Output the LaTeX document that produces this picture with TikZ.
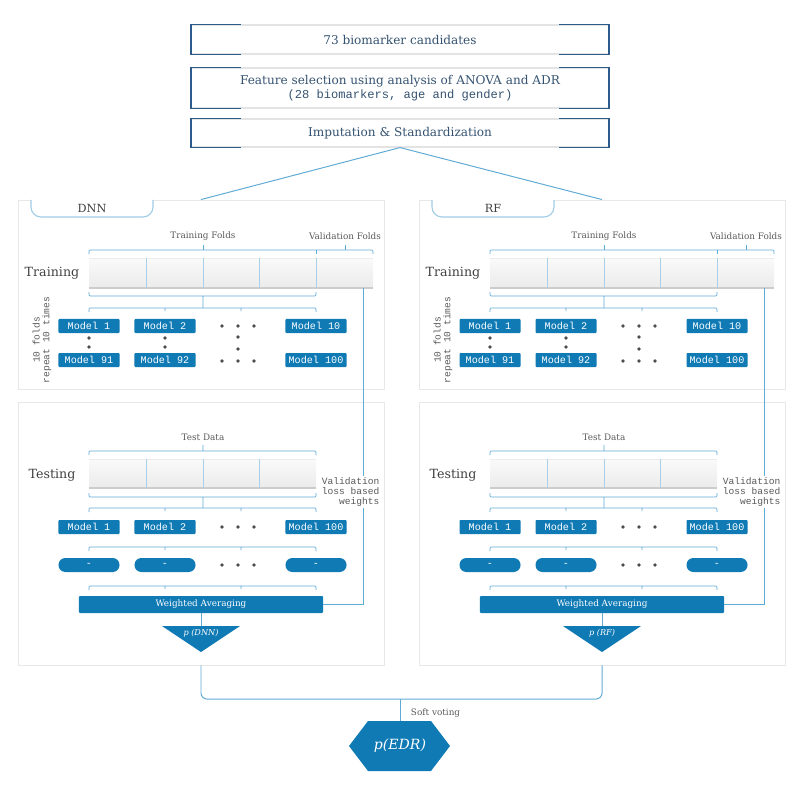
\documentclass[tikz,border=0pt]{standalone}
\usepackage{fontspec}
\setmainfont{DejaVu Serif}
\setmonofont{Liberation Mono}
\definecolor{mblue}{RGB}{16,122,181}
\definecolor{lblue}{RGB}{96,170,214}
\definecolor{headc}{RGB}{52,82,112}
\definecolor{darkb}{RGB}{44,92,140}
\begin{document}
\begin{tikzpicture}[x=0.025cm,y=-0.025cm,
  conn/.style={draw=lblue, line width=0.7pt},
  brk/.style={draw=lblue, line width=0.6pt, rounded corners=0.8pt},
  topbox/.style={draw=gray!22, line width=0.8pt, minimum width=10.425cm, text=headc,
    font=\fontsize{8.6}{10.4}\selectfont, align=center, inner sep=0pt},
  panel/.style={draw=gray!18, line width=0.6pt, minimum width=9.15cm, inner sep=0pt},
  modelbox/.style={fill=mblue, text=white, font=\ttfamily\fontsize{7.2}{8}\selectfont,
    minimum width=1.525cm, minimum height=0.35cm, inner sep=0pt, rounded corners=0.6pt},
  pill/.style={modelbox, rounded corners=0.17cm},
  lbl/.style={font=\fontsize{6.3}{7.5}\selectfont, text=black!65},
  stage/.style={font=\fontsize{9}{11}\selectfont, text=black!75},
  tt/.style={font=\ttfamily\fontsize{6.8}{7}\selectfont, text=black!65, inner sep=1pt},
  dots/.style={fill=gray!60!black}]
\useasboundingbox (0,0) rectangle (800,800);

\node[topbox, minimum height=0.725cm] (cand) at (400,39.5) {73 biomarker candidates};
\node[topbox, minimum height=1cm] (feat) at (400,88)
  {Feature selection using analysis of ANOVA and ADR\\{\ttfamily (28 biomarkers, age and gender)}};
\node[topbox, minimum height=0.7cm] (imp) at (400,133) {Imputation \& Standardization};
\foreach \b in {cand, feat, imp} {
  \draw[darkb, line width=1pt] ([xshift=1.25cm]\b.north west) -- (\b.north west)
    -- (\b.south west) -- ([xshift=1.25cm]\b.south west);
  \draw[darkb, line width=1pt] ([xshift=-1.25cm]\b.north east) -- (\b.north east)
    -- (\b.south east) -- ([xshift=-1.25cm]\b.south east);
}

\foreach \o/\m/\nm in {0/DNN/dnn, 401/RF/rf} {
\begin{scope}[shift={(\o,0)}]
  \node[panel, minimum height=4.725cm] (\nm-train) at (201,294.5) {};
  \node[panel, minimum height=6.575cm] (\nm-test) at (201,533.5) {};
  \draw[draw=lblue!60, fill=white, line width=0.8pt, rounded corners=0.25cm]
    (31,200) -- (31,217) -- (153,217) -- (153,200);
  \node[stage, font=\fontsize{8}{10}\selectfont] (\nm-tab) at (92,208) {\m};

  % training
  \node[stage] (\nm-trl) at (52,273) {Training};
  \node[lbl] (\nm-tf) at (203,236) {Training Folds};
  \node[lbl] (\nm-vf) at (345,236) {Validation Folds};
  \draw[brk] (89,254) -- (89,250) -- (373,250) -- (373,254);
  \draw[brk] (316,250) -- (316,254) (203,250) -- (203,245) (345,250) -- (345,245);
  \shade[top color=gray!4, bottom color=gray!16] (89,258) rectangle (373,288);
  \draw[gray!15] (89,258) -- (373,258);
  \draw[gray!40, line width=0.8pt] (89,288) -- (373,288);
  \foreach \x in {146,203,259,316}
    \draw[lblue!55, line width=0.6pt] (\x,258) -- (\x,288);
  \draw[brk] (89,292) -- (89,296) -- (316,296) -- (316,292) (203,296) -- (203,308);
  \draw[brk] (89,312) -- (89,308) -- (316,308) -- (316,312)
    (165,308) -- (165,311) (241,308) -- (241,311);
  \node[tt, rotate=90, align=center] (\nm-rep) at (42,340) {10 folds\\repeat 10 times};
  \foreach \x/\t in {89/1, 165/2, 316/10}
    \node[modelbox] (\nm-m\t) at (\x,326) {Model \t};
  \foreach \x/\t in {89/91, 165/92, 316/100}
    \node[modelbox] (\nm-m\t) at (\x,360) {Model \t};
  \foreach \x in {222,238,254}
    \fill[dots] (\x,326) circle (1.4pt) (\x,361) circle (1.4pt);
  \foreach \y in {338,347}
    \fill[dots] (89,\y) circle (1.4pt) (165,\y) circle (1.4pt);
  \fill[dots] (238,337) circle (1.4pt) (238,349) circle (1.4pt);

  % testing
  \node[stage] (\nm-tsl) at (52,475) {Testing};
  \node[lbl] (\nm-td) at (203,437) {Test Data};
  \draw[brk] (89,455) -- (89,451) -- (316,451) -- (316,455) (203,451) -- (203,445);
  \shade[top color=gray!4, bottom color=gray!16] (89,459) rectangle (316,488);
  \draw[gray!15] (89,459) -- (316,459);
  \draw[gray!40, line width=0.8pt] (89,488) -- (316,488);
  \foreach \x in {146,203,259}
    \draw[lblue!55, line width=0.6pt] (\x,459) -- (\x,488);
  \draw[brk] (89,493) -- (89,497) -- (316,497) -- (316,493) (203,497) -- (203,508);
  \foreach \y in {508,547,586}
    \draw[brk] (89,\y+4) -- (89,\y) -- (316,\y) -- (316,\y+4)
      (165,\y) -- (165,\y+3) (241,\y) -- (241,\y+3);
  \foreach \x/\t in {89/1, 165/2, 316/100}
    \node[modelbox] (\nm-t\t) at (\x,527) {Model \t};
  \foreach \x/\t in {89/1, 165/2, 316/3}
    \node[pill] (\nm-p\t) at (\x,565) {-};
  \foreach \x in {222,238,254}
    \fill[dots] (\x,527) circle (1.4pt) (\x,565) circle (1.4pt);
  \node[modelbox, minimum width=6.1cm, minimum height=0.425cm,
    font=\fontsize{6.3}{7}\selectfont] (\nm-wa) at (201,604.5) {Weighted Averaging};
  \fill[mblue] (162,626) -- (240,626) -- (201,652) -- cycle;
  \coordinate (\nm-ptop) at (201,626);
  \draw[conn] (\nm-wa.south) -- (\nm-ptop);
  \node[text=white, font=\itshape\fontsize{5.8}{6}\selectfont] (\nm-p) at (201,633) {p (\m)};

  \coordinate (\nm-val) at (363,288);
  \draw[conn] (\nm-val) |- (\nm-wa.east);
  \node[tt, fill=white, align=right, anchor=east] (\nm-vl) at (381,492)
    {Validation\\loss based\\weights};
\end{scope}
}

\draw[conn] (imp.south) -- (dnn-train.north);
\draw[conn] (imp.south) -- (rf-train.north);

\coordinate (vote) at (400,699);
\draw[conn, rounded corners=0.15cm] (dnn-test.south) |- (vote) -| (rf-test.south);
\fill[mblue] (349,746) -- (368,721) -- (431,721) -- (450,746) -- (431,771) -- (368,771) -- cycle;
\coordinate (edrtop) at (400,721);
\draw[conn] (vote) -- (edrtop);
\node[lbl, anchor=west] (sv) at (406,713) {Soft voting};
\node[text=white, font=\itshape\fontsize{10}{12}\selectfont] (edr) at (400,746) {p(EDR)};
\end{tikzpicture}
\end{document}
